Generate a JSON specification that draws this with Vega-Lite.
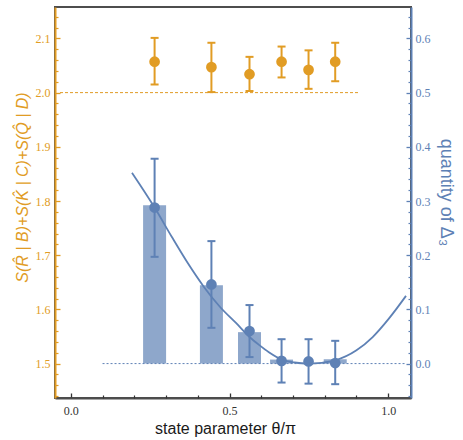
{
  "$schema": "https://vega.github.io/schema/vega-lite/v6.json",
  "width": 356,
  "height": 391,
  "autosize": "none",
  "padding": {"left": 55, "top": 7, "right": 52, "bottom": 42},
  "background": "white",
  "config": {
    "view": {"stroke": "#4D4D4D", "strokeWidth": 2}
  },
  "datasets": {
    "orange": [
      {"theta": 0.264, "s": 2.057, "lo": 2.015, "hi": 2.101},
      {"theta": 0.443, "s": 2.047, "lo": 2.001, "hi": 2.092},
      {"theta": 0.563, "s": 2.034, "lo": 2.003, "hi": 2.066},
      {"theta": 0.664, "s": 2.057, "lo": 2.028, "hi": 2.085},
      {"theta": 0.749, "s": 2.042, "lo": 2.007, "hi": 2.078},
      {"theta": 0.833, "s": 2.057, "lo": 2.021, "hi": 2.092}
    ],
    "blue": [
      {"theta": 0.264, "d": 0.288, "lo": 0.197, "hi": 0.378, "bar": 0.292},
      {"theta": 0.443, "d": 0.146, "lo": 0.066, "hi": 0.226, "bar": 0.1445},
      {"theta": 0.563, "d": 0.060, "lo": 0.012, "hi": 0.108, "bar": 0.058},
      {"theta": 0.664, "d": 0.005, "lo": -0.035, "hi": 0.045, "bar": 0.0074},
      {"theta": 0.749, "d": 0.004, "lo": -0.037, "hi": 0.045, "bar": 0.0015},
      {"theta": 0.833, "d": 0.001, "lo": -0.038, "hi": 0.042, "bar": 0.008}
    ],
    "curve": [
      {"theta": 0.193, "q": 0.352},
      {"theta": 0.264, "q": 0.288},
      {"theta": 0.318, "q": 0.234},
      {"theta": 0.369, "q": 0.185},
      {"theta": 0.420, "q": 0.141},
      {"theta": 0.471, "q": 0.104},
      {"theta": 0.522, "q": 0.074},
      {"theta": 0.563, "q": 0.049},
      {"theta": 0.594, "q": 0.034},
      {"theta": 0.624, "q": 0.021},
      {"theta": 0.665, "q": 0.0074},
      {"theta": 0.705, "q": 0.002},
      {"theta": 0.747, "q": 0.0},
      {"theta": 0.790, "q": 0.0015},
      {"theta": 0.833, "q": 0.006},
      {"theta": 0.900, "q": 0.0245},
      {"theta": 0.951, "q": 0.049},
      {"theta": 1.002, "q": 0.083},
      {"theta": 1.056, "q": 0.125}
    ],
    "orangeRef": [{"x1": -0.034, "x2": 0.91, "y": 2.0}],
    "blueRef": [{"x1": 0.1, "x2": 1.056, "y": 0.0}]
  },
  "layer": [
    {
      "layer": [
        {
          "data": {"name": "orangeRef"},
          "mark": {"type": "rule", "color": "#E19C24", "strokeDash": [3, 2], "strokeWidth": 1},
          "encoding": {
            "x": {"field": "x1", "type": "quantitative", "scale": {"domain": [-0.034, 1.056], "nice": false, "zero": false},
              "axis": {"orient": "bottom", "grid": false, "domainColor": "#4D4D4D", "domainWidth": 2,
                "ticks": true, "tickColor": "#333333", "tickWidth": 1.3, "tickSize": -5,
                "labelFont": "Liberation Serif", "labelFontSize": 12, "labelColor": "#333333", "labelOverlap": false, "labelFlush": false, "labelPadding": 12, "format": ".1f",
                "title": "state parameter θ/π", "titleFont": "Liberation Sans", "titleFontWeight": "normal", "titleColor": "#1A1A1A", "titleFontSize": 16, "titleX": 170, "titlePadding": 4,
                "values": [0, 0.5, 1.0]}},
            "x2": {"field": "x2"},
            "y": {"field": "y", "type": "quantitative", "scale": {"domain": [1.4365, 2.158], "nice": false, "zero": false},
              "axis": {"orient": "left", "grid": false, "domainColor": "#E19C24", "domainWidth": 2,
                "ticks": true, "tickColor": "#E19C24", "tickWidth": 1.3, "tickSize": -5,
                "labelFont": "Liberation Serif", "labelFontSize": 12, "labelColor": "#E19C24", "labelOverlap": false, "labelFlush": false, "labelPadding": 10, "format": ".1f",
                "title": "S(R̂ | B)+S(K̂ | C)+S(Q̂ | D)", "titleFont": "Liberation Sans", "titleFontWeight": "normal", "titleColor": "#E19C24", "titleFontSize": 16, "titleFontStyle": "italic", "titleY": 180, "titlePadding": 5,
                "values": [1.5, 1.6, 1.7, 1.8, 1.9, 2.0, 2.1]}}
          }
        },
        {
          "data": {"name": "orange"},
          "mark": {"type": "rule", "color": "#E19C24", "strokeWidth": 2},
          "encoding": {
            "x": {"field": "theta", "type": "quantitative",
              "axis": {"orient": "bottom", "grid": false, "domain": false, "labels": false, "title": null,
                "ticks": true, "tickColor": "#333333", "tickWidth": 1.2, "tickSize": -3,
                "values": [0.1, 0.2, 0.3, 0.4, 0.6, 0.7, 0.8, 0.9]}},
            "y": {"field": "lo", "type": "quantitative",
              "axis": {"orient": "left", "grid": false, "domain": false, "labels": false, "title": null,
                "ticks": true, "tickColor": "#E19C24", "tickWidth": 1.2, "tickSize": -3,
                "values": [1.44, 1.46, 1.48, 1.52, 1.54, 1.56, 1.58, 1.62, 1.64, 1.66, 1.68, 1.72, 1.74, 1.76, 1.78, 1.82, 1.84, 1.86, 1.88, 1.92, 1.94, 1.96, 1.98, 2.02, 2.04, 2.06, 2.08, 2.12, 2.14]}},
            "y2": {"field": "hi"}
          }
        },
        {
          "data": {"name": "orange"},
          "mark": {"type": "tick", "color": "#E19C24", "orient": "horizontal", "size": 8, "thickness": 2, "opacity": 1},
          "encoding": {
            "x": {"field": "theta", "type": "quantitative", "axis": null},
            "y": {"field": "lo", "type": "quantitative", "axis": null}
          }
        },
        {
          "data": {"name": "orange"},
          "mark": {"type": "tick", "color": "#E19C24", "orient": "horizontal", "size": 8, "thickness": 2, "opacity": 1},
          "encoding": {
            "x": {"field": "theta", "type": "quantitative", "axis": null},
            "y": {"field": "hi", "type": "quantitative", "axis": null}
          }
        },
        {
          "data": {"name": "orange"},
          "mark": {"type": "circle", "color": "#E19C24", "size": 115, "opacity": 1},
          "encoding": {
            "x": {"field": "theta", "type": "quantitative", "axis": null},
            "y": {"field": "s", "type": "quantitative", "axis": null}
          }
        }
      ],
      "resolve": {"axis": {"x": "independent", "y": "independent"}}
    },
    {
      "layer": [
        {
          "data": {"name": "blue"},
          "mark": {"type": "bar", "color": "#8EA7CB", "size": 23},
          "encoding": {
            "x": {"field": "theta", "type": "quantitative", "axis": null},
            "y": {"field": "bar", "type": "quantitative", "scale": {"domain": [-0.0635, 0.658], "nice": false, "zero": false},
              "axis": {"orient": "right", "grid": false, "domainColor": "#5E81B5", "domainWidth": 2,
                "ticks": true, "tickColor": "#5E81B5", "tickWidth": 1.3, "tickSize": -5,
                "labelFont": "Liberation Serif", "labelFontSize": 12, "labelColor": "#5E81B5", "labelOverlap": false, "labelFlush": false, "labelPadding": 9, "format": ".1f",
                "title": "quantity of Δ₃", "titleFont": "Liberation Sans", "titleFontWeight": "normal", "titleColor": "#5E81B5", "titleFontSize": 18, "titleY": 185, "titlePadding": 6,
                "values": [0, 0.1, 0.2, 0.3, 0.4, 0.5, 0.6]}},
            "y2": {"datum": 0}
          }
        },
        {
          "data": {"name": "blueRef"},
          "mark": {"type": "rule", "color": "#5E81B5", "strokeDash": [2, 2], "strokeWidth": 1},
          "encoding": {
            "x": {"field": "x1", "type": "quantitative", "axis": null},
            "x2": {"field": "x2"},
            "y": {"field": "y", "type": "quantitative",
              "axis": {"orient": "right", "grid": false, "domain": false, "labels": false, "title": null,
                "ticks": true, "tickColor": "#5E81B5", "tickWidth": 1.2, "tickSize": -3,
                "values": [-0.06, -0.04, -0.02, 0.02, 0.04, 0.06, 0.08, 0.12, 0.14, 0.16, 0.18, 0.22, 0.24, 0.26, 0.28, 0.32, 0.34, 0.36, 0.38, 0.42, 0.44, 0.46, 0.48, 0.52, 0.54, 0.56, 0.58, 0.62, 0.64]}}
          }
        },
        {
          "data": {"name": "curve"},
          "mark": {"type": "line", "color": "#5E81B5", "strokeWidth": 1.8, "interpolate": "monotone", "clip": true},
          "encoding": {
            "x": {"field": "theta", "type": "quantitative", "axis": null},
            "y": {"field": "q", "type": "quantitative", "axis": null}
          }
        },
        {
          "data": {"name": "blue"},
          "mark": {"type": "rule", "color": "#5E81B5", "strokeWidth": 2},
          "encoding": {
            "x": {"field": "theta", "type": "quantitative", "axis": null},
            "y": {"field": "lo", "type": "quantitative", "axis": null},
            "y2": {"field": "hi"}
          }
        },
        {
          "data": {"name": "blue"},
          "mark": {"type": "tick", "color": "#5E81B5", "orient": "horizontal", "size": 8, "thickness": 2, "opacity": 1},
          "encoding": {
            "x": {"field": "theta", "type": "quantitative", "axis": null},
            "y": {"field": "lo", "type": "quantitative", "axis": null}
          }
        },
        {
          "data": {"name": "blue"},
          "mark": {"type": "tick", "color": "#5E81B5", "orient": "horizontal", "size": 8, "thickness": 2, "opacity": 1},
          "encoding": {
            "x": {"field": "theta", "type": "quantitative", "axis": null},
            "y": {"field": "hi", "type": "quantitative", "axis": null}
          }
        },
        {
          "data": {"name": "blue"},
          "mark": {"type": "circle", "color": "#5E81B5", "size": 115, "opacity": 1},
          "encoding": {
            "x": {"field": "theta", "type": "quantitative", "axis": null},
            "y": {"field": "d", "type": "quantitative", "axis": null}
          }
        }
      ],
      "resolve": {"axis": {"y": "independent"}}
    }
  ],
  "resolve": {"scale": {"y": "independent"}}
}
